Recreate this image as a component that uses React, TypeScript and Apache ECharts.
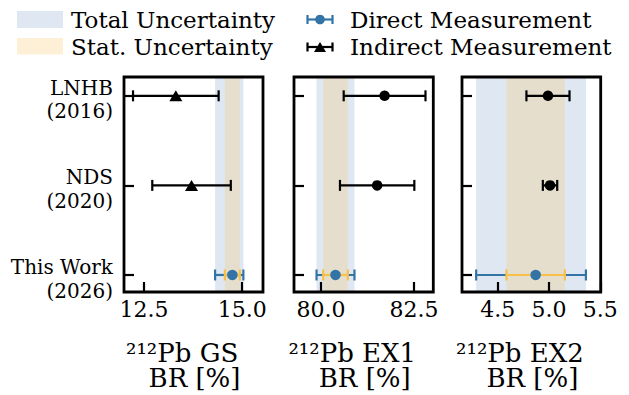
import React, { useEffect, useRef } from 'react';
import * as echarts from 'echarts';

// ---------- data ----------
const sources = ['LNHB\n(2016)', 'NDS\n(2020)', 'This Work\n(2026)'];
const rows = [0, 1, 2];
const indirectRows = [0, 1];
const thisWorkRow = 2;

// 212Pb GS
const gsIndirectValue = [13.31, 13.71];
const gsIndirectErr = [1.09, 1.0];
const gsThisWork = 14.75;
const gsStatErr = 0.19;
const gsTotalErrLow = 0.44;
const gsTotalErrHigh = 0.28;
const gsTicks = [12.5, 15.0];

// 212Pb EX1
const ex1IndirectValue = [81.71, 81.51];
const ex1IndirectErr = [1.1, 1.0];
const ex1ThisWork = 80.39;
const ex1StatErr = 0.33;
const ex1TotalErrLow = 0.51;
const ex1TotalErrHigh = 0.51;
const ex1Ticks = [80.0, 82.5];

// 212Pb EX2
const ex2IndirectValue = [4.99, 5.01];
const ex2IndirectErr = [0.21, 0.07];
const ex2ThisWork = 4.87;
const ex2StatErr = 0.285;
const ex2TotalErrLow = 0.58;
const ex2TotalErrHigh = 0.49;
const ex2Ticks = [4.5, 5.0, 5.5];

const panelNames = ['²¹²Pb GS', '²¹²Pb EX1', '²¹²Pb EX2'];
const axisUnit = 'BR [%]';
const legendLabels = ['Total Uncertainty', 'Stat. Uncertainty', 'Direct Measurement', 'Indirect Measurement'];

// ---------- style ----------
const FONT = 'DejaVu Serif';
const BLUE = '#3274a6';
const YELLOW = '#f7c048';
const TOTAL_BAND = '#dfe7f2';
const STAT_BAND = 'rgba(248, 201, 109, 0.28)';
const STAT_LEGEND = '#fdf0d7';
const GRID_TOP = 77;
const GRID_H = 215;
const NBSP3 = '\u00a0\u00a0\u00a0';

const panels = [
  {
    name: panelNames[0], left: 124, width: 139, min: 11.99, max: 15.53, ticks: gsTicks,
    iv: gsIndirectValue, ie: gsIndirectErr, tw: gsThisWork, se: gsStatErr, tl: gsTotalErrLow, th: gsTotalErrHigh,
    symbol: 'triangle', symbolSize: [13, 11],
  },
  {
    name: panelNames[1], left: 294, width: 139.3, min: 79.274, max: 83.02, ticks: ex1Ticks,
    iv: ex1IndirectValue, ie: ex1IndirectErr, tw: ex1ThisWork, se: ex1StatErr, tl: ex1TotalErrLow, th: ex1TotalErrHigh,
    symbol: 'circle', symbolSize: 10.5,
  },
  {
    name: panelNames[2], left: 462, width: 138.7, min: 4.152, max: 5.504, ticks: ex2Ticks,
    iv: ex2IndirectValue, ie: ex2IndirectErr, tw: ex2ThisWork, se: ex2StatErr, tl: ex2TotalErrLow, th: ex2TotalErrHigh,
    symbol: 'circle', symbolSize: 10.5,
  },
];

function bandRender(fill: string) {
  return (params: any, api: any) => {
    const cs = params.coordSys;
    const x0 = api.coord([api.value(0), 0])[0];
    const x1 = api.coord([api.value(1), 0])[0];
    return {
      type: 'rect',
      shape: { x: x0, y: cs.y, width: x1 - x0, height: cs.height },
      style: { fill },
    };
  };
}

function errRender(color: string, capHalf: number, lw: number) {
  return (params: any, api: any) => {
    const row = api.value(1);
    const lo = api.coord([api.value(2), row]);
    const hi = api.coord([api.value(3), row]);
    const st = { stroke: color, lineWidth: lw };
    return {
      type: 'group',
      children: [
        { type: 'line', shape: { x1: lo[0], y1: lo[1], x2: hi[0], y2: hi[1] }, style: st },
        { type: 'line', shape: { x1: lo[0], y1: lo[1] - capHalf, x2: lo[0], y2: lo[1] + capHalf }, style: st },
        { type: 'line', shape: { x1: hi[0], y1: hi[1] - capHalf, x2: hi[0], y2: hi[1] + capHalf }, style: st },
      ],
    };
  };
}

export default function App() {
  const ref = useRef<HTMLDivElement>(null);
  useEffect(() => {
    if (!ref.current) return;
    const chart = echarts.init(ref.current, undefined, { renderer: 'svg' });

    const grid: any[] = [];
    const xAxis: any[] = [];
    const yAxis: any[] = [];
    const series: any[] = [];

    panels.forEach((p, i) => {
      grid.push({
        left: p.left, top: GRID_TOP, width: p.width, height: GRID_H,
        show: true, borderColor: '#000', borderWidth: 2.8, backgroundColor: 'transparent', z: 10,
      });
      xAxis.push({
        type: 'value', gridIndex: i, min: p.min, max: p.max, z: 11, position: 'bottom',
        axisLine: { show: false, onZero: false },
        splitLine: { show: false },
        axisTick: { show: true, inside: true, length: 10, customValues: p.ticks, lineStyle: { color: '#000', width: 2.2 } },
        axisLabel: {
          customValues: p.ticks, formatter: (v: number) => v.toFixed(1),
          fontSize: 22, fontFamily: FONT, color: '#000', margin: 6,
        },
      });
      yAxis.push({
        type: 'value', gridIndex: i, min: -0.21, max: 2.19, inverse: true, z: 11, position: 'left',
        axisLine: { show: false, onZero: false },
        splitLine: { show: false },
        axisTick: { show: true, inside: true, length: 10, customValues: rows, lineStyle: { color: '#000', width: 2.2 } },
        axisLabel: { show: false },
      });

      const totalLo = p.tw - p.tl;
      const totalHi = p.tw + p.th;
      const statLo = p.tw - p.se;
      const statHi = p.tw + p.se;

      series.push({
        type: 'custom', xAxisIndex: i, yAxisIndex: i, z: 1, silent: true,
        renderItem: bandRender(TOTAL_BAND), data: [[totalLo, totalHi]],
      });
      series.push({
        type: 'custom', xAxisIndex: i, yAxisIndex: i, z: 1, silent: true,
        renderItem: bandRender(STAT_BAND), data: [[statLo, statHi]],
      });
      series.push({
        type: 'custom', xAxisIndex: i, yAxisIndex: i, z: 3, silent: true,
        renderItem: errRender('#000', 5.5, 2.2),
        data: indirectRows.map((r, k) => [p.iv[k], r, p.iv[k] - p.ie[k], p.iv[k] + p.ie[k]]),
      });
      series.push({
        type: 'custom', xAxisIndex: i, yAxisIndex: i, z: 3, silent: true,
        renderItem: errRender(BLUE, 5.5, 2.2),
        data: [[p.tw, thisWorkRow, totalLo, totalHi]],
      });
      series.push({
        type: 'custom', xAxisIndex: i, yAxisIndex: i, z: 4, silent: true,
        renderItem: errRender(YELLOW, 5.5, 2.2),
        data: [[p.tw, thisWorkRow, statLo, statHi]],
      });
      series.push({
        type: 'scatter', xAxisIndex: i, yAxisIndex: i, z: 5, silent: true,
        symbol: p.symbol, symbolSize: p.symbolSize,
        itemStyle: { color: '#000', opacity: 1 },
        data: indirectRows.map((r, k) => [p.iv[k], r]),
      });
      series.push({
        type: 'scatter', xAxisIndex: i, yAxisIndex: i, z: 5, silent: true,
        symbol: 'circle', symbolSize: 10.5,
        itemStyle: { color: BLUE, opacity: 1 },
        data: [[p.tw, thisWorkRow]],
      });
    });

    chart.setOption({
      animation: false,
      backgroundColor: '#fff',
      textStyle: { fontFamily: FONT },
      grid, xAxis, yAxis, series,
    });

    const txt = (text: string, x: number, y: number, size: number, align: string, lineHeight?: number) => ({
      type: 'text', x, y, z: 20,
      style: {
        text, fontFamily: FONT, fontSize: size, fill: '#000', verticalAlign: 'middle', align,
        lineHeight: lineHeight || size * 1.2,
      },
    });
    const errIcon = (cx: number, cy: number, color: string) => [
      { type: 'line', shape: { x1: cx - 12.5, y1: cy, x2: cx + 12.5, y2: cy }, style: { stroke: color, lineWidth: 2.2 } },
      { type: 'line', shape: { x1: cx - 12.5, y1: cy - 4.5, x2: cx - 12.5, y2: cy + 4.5 }, style: { stroke: color, lineWidth: 2.2 } },
      { type: 'line', shape: { x1: cx + 12.5, y1: cy - 4.5, x2: cx + 12.5, y2: cy + 4.5 }, style: { stroke: color, lineWidth: 2.2 } },
    ];

    const graphic: any[] = [
      { type: 'rect', shape: { x: 17, y: 11, width: 46, height: 17 }, style: { fill: TOTAL_BAND } },
      { type: 'rect', shape: { x: 17, y: 38, width: 46, height: 16.5 }, style: { fill: STAT_LEGEND } },
      txt(legendLabels[0], 71, 20, 23, 'left', 26),
      txt(legendLabels[1], 71, 47, 23, 'left', 26),
      ...errIcon(320, 19.5, BLUE),
      { type: 'circle', shape: { cx: 320, cy: 19.5, r: 4.8 }, style: { fill: BLUE } },
      ...errIcon(320, 47, '#000'),
      { type: 'polygon', shape: { points: [[314, 52], [326, 52], [320, 42]] }, style: { fill: '#000' } },
      txt(legendLabels[2], 350, 20, 23, 'left', 26),
      txt(legendLabels[3], 350, 47, 23, 'left', 26),
    ];

    // row labels placed at the y-axis tick positions
    rows.forEach((r) => {
      const py = chart.convertToPixel({ xAxisIndex: 0, yAxisIndex: 0 }, [panels[0].min, r]) as number[];
      graphic.push(txt(sources[r], 113, py[1] + 3.8, 20, 'right', 23.5));
    });
    // axis titles (two lines in one text)
    panels.forEach((p) => {
      const cx = p.left + p.width / 2;
      graphic.push(txt(`${p.name}${NBSP3}\n${axisUnit}`, cx + 1, 365.3, 26, 'center', 24.5));
    });

    chart.setOption({ graphic });
    return () => chart.dispose();
  }, []);

  return <div ref={ref} style={{ position: 'fixed', left: 0, top: 0, width: 629, height: 395 }} />;
}
